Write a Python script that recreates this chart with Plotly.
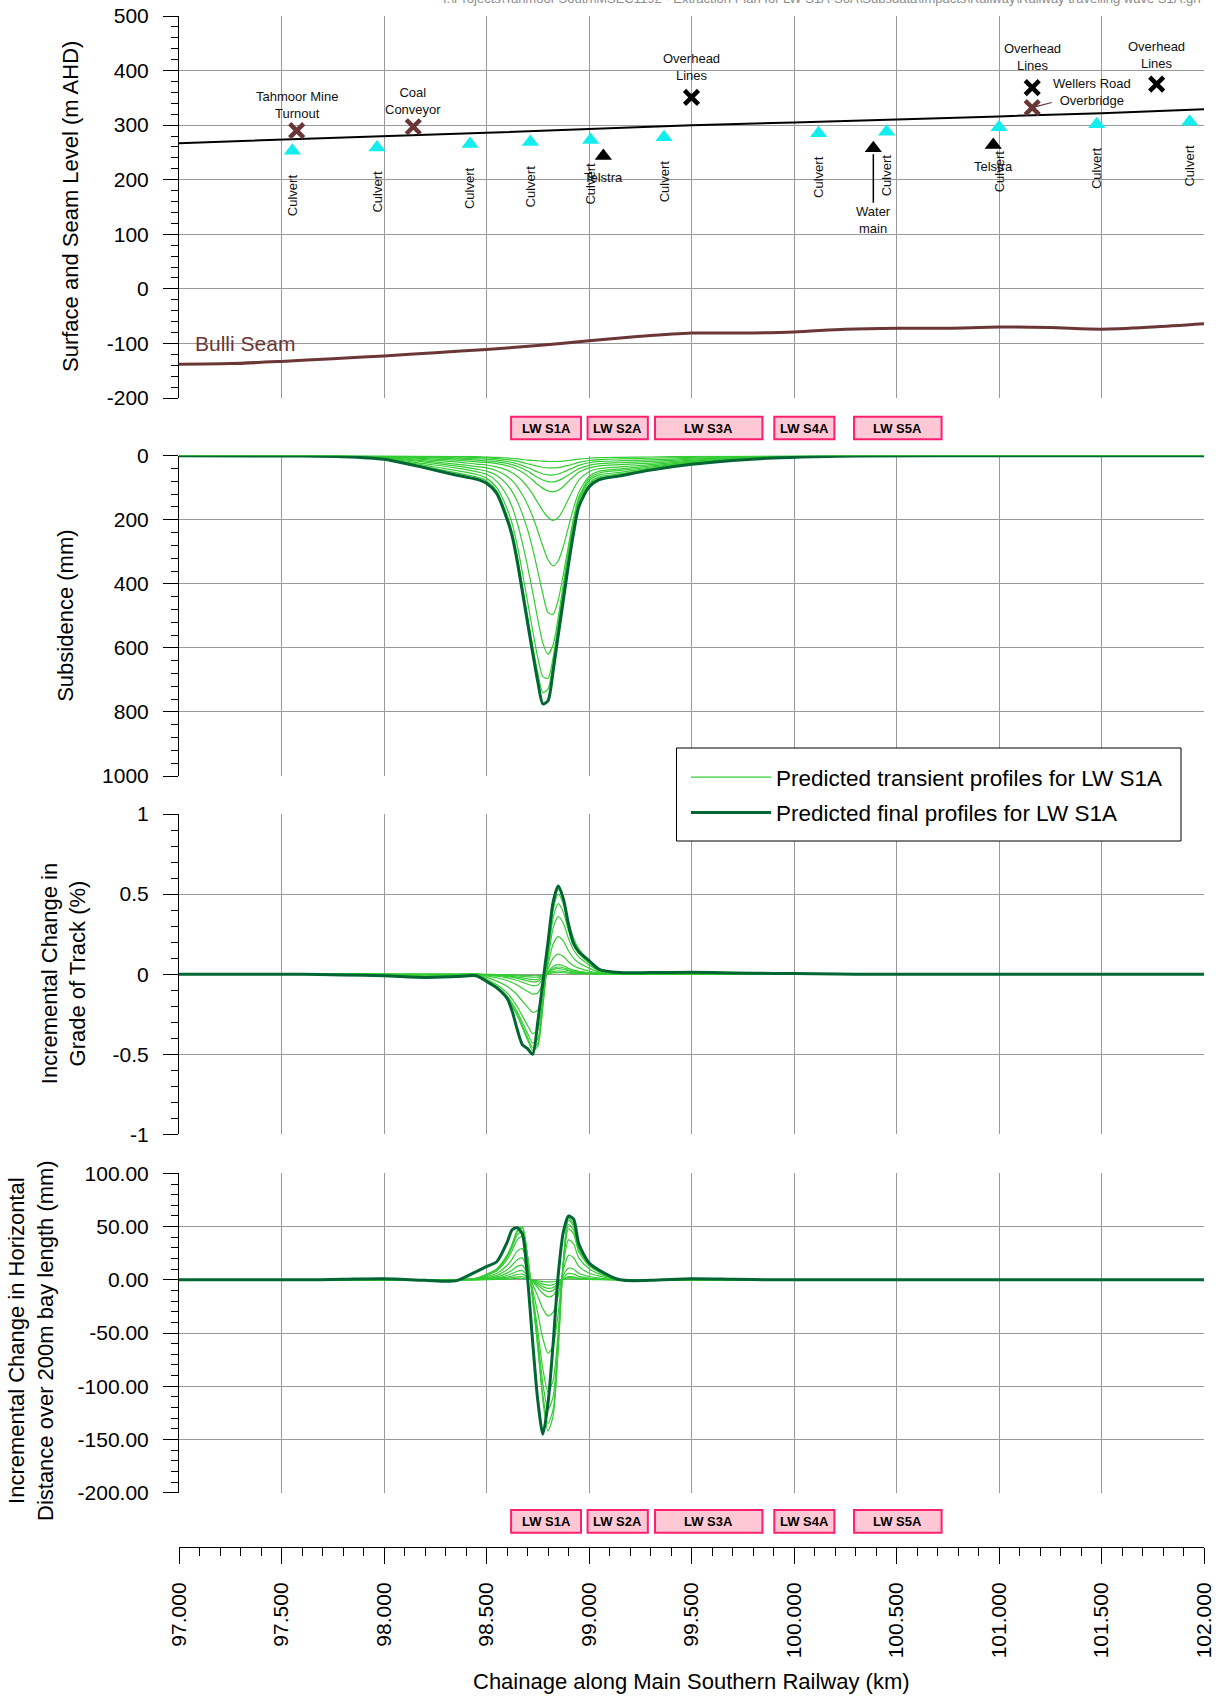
import plotly.graph_objects as go

# ------------------------------------------------------------------ ticks
km_ticks = [97.0, 97.5, 98.0, 98.5, 99.0, 99.5, 100.0, 100.5, 101.0, 101.5, 102.0]
km_tick_text = ["97.000", "97.500", "98.000", "98.500", "99.000", "99.500",
                "100.000", "100.500", "101.000", "101.500", "102.000"]
level_ticks = [-200, -100, 0, 100, 200, 300, 400, 500]
level_tick_text = ["-200", "-100", "0", "100", "200", "300", "400", "500"]
subs_ticks = [0, 200, 400, 600, 800, 1000]
subs_tick_text = ["0", "200", "400", "600", "800", "1000"]
grade_ticks = [-1, -0.5, 0, 0.5, 1]
grade_tick_text = ["-1", "-0.5", "0", "0.5", "1"]
horiz_ticks = [-200, -150, -100, -50, 0, 50, 100]
horiz_tick_text = ["-200.00", "-150.00", "-100.00", "-50.00", "0.00", "50.00", "100.00"]

# ------------------------------------------------------------------ top panel data
surface_km = [97.0, 97.5, 98.0, 98.5, 99.0, 99.5, 100.0, 100.5, 101.0, 101.5, 102.0]
surface_lvl = [267, 273, 280, 286, 293, 300, 305, 310, 316, 322, 329]

seam_km = [97.0, 97.25, 97.5, 97.75, 98.0, 98.25, 98.5, 98.75, 99.0, 99.25, 99.5,
           99.75, 100.0, 100.25, 100.5, 100.75, 101.0, 101.25, 101.5, 101.75, 102.0]
seam_lvl = [-138, -137, -133, -128, -123, -117, -111, -104, -95, -87, -81,
            -81, -79, -74, -72, -72, -70, -71, -74, -70, -64]

culvert_km = [97.553, 97.966, 98.42, 98.714, 99.008, 99.366, 100.12, 100.452, 101.0, 101.477, 101.93]
culvert_lvl = [253, 259, 265.5, 269, 273, 277.7, 285, 288, 296, 301.5, 306]

service_km = [99.07, 100.387, 100.972]
service_lvl = [243.5, 257.5, 263.6]
service_names = ["Telstra", "Water<br>main", "Telstra"]

feature_km = [97.574, 98.143, 101.162]
feature_lvl = [290, 297, 332]
feature_names = ["Tahmoor Mine<br>Turnout", "Coal<br>Conveyor", "Wellers Road<br>Overbridge"]

overhead_km = [99.50, 101.162, 101.769]
overhead_lvl = [351, 368.6, 375]
overhead_names = ["Overhead<br>Lines", "Overhead<br>Lines", "Overhead<br>Lines"]

lw_names = ["LW S1A", "LW S2A", "LW S3A", "LW S4A", "LW S5A"]
lw_start = [98.620, 98.993, 99.322, 99.904, 100.293]
lw_end = [98.961, 99.287, 99.846, 100.197, 100.720]

# ------------------------------------------------------------------ profiles
profile_km = [97.0, 97.6, 97.8, 98.0, 98.2, 98.35, 98.45, 98.5, 98.55, 98.6, 98.625, 98.65,
              98.675, 98.7, 98.725, 98.75, 98.775, 98.8, 98.825, 98.85, 98.875, 98.9, 98.925,
              98.95, 99.0, 99.05, 99.15, 99.3, 99.5, 99.7, 99.9, 100.1, 100.3, 101.0, 102.0]

subs_final = [0, 1, 3, 11, 38, 60, 73, 86, 118, 198, 250, 330, 425, 520, 615, 705, 775, 765,
              672, 560, 450, 340, 240, 160, 98, 75, 63, 45, 27, 15, 7, 3, 1, 0, 0]
subs_transient = [
    [0, 0, 0, 0, 1, 2, 3, 4, 5, 7, 8, 10, 12, 14, 15, 16, 17, 18, 18, 18, 17, 15, 13, 11, 8, 6, 5, 4, 2, 1, 0, 0, 0, 0, 0],
    [0, 0, 0, 1, 2, 4, 6, 7, 9, 12, 14, 17, 21, 25, 29, 33, 36, 38, 38, 37, 34, 30, 26, 21, 15, 12, 10, 8, 5, 3, 1, 0, 0, 0, 0],
    [0, 0, 0, 1, 4, 7, 10, 11, 14, 18, 21, 25, 31, 37, 44, 51, 57, 60, 60, 57, 51, 44, 37, 30, 22, 18, 16, 13, 8, 4, 2, 1, 0, 0, 0],
    [0, 0, 1, 2, 6, 10, 14, 16, 19, 24, 28, 33, 40, 48, 58, 68, 76, 81, 82, 78, 70, 60, 50, 41, 30, 25, 22, 18, 11, 6, 3, 1, 0, 0, 0],
    [0, 0, 1, 3, 9, 14, 19, 21, 25, 31, 36, 43, 52, 63, 76, 90, 102, 110, 113, 108, 96, 80, 65, 52, 38, 32, 28, 23, 14, 8, 4, 1, 0, 0, 0],
    [0, 0, 1, 4, 12, 19, 26, 29, 35, 45, 53, 64, 79, 97, 120, 146, 172, 192, 202, 193, 168, 135, 103, 76, 50, 40, 35, 28, 17, 9, 4, 2, 1, 0, 0],
    [0, 0, 2, 5, 16, 26, 34, 38, 47, 64, 78, 97, 122, 152, 190, 235, 283, 325, 344, 328, 282, 222, 163, 115, 65, 48, 41, 32, 19, 11, 5, 2, 1, 0, 0],
    [0, 0, 2, 7, 20, 32, 42, 48, 62, 90, 112, 142, 182, 230, 290, 360, 432, 490, 495, 450, 370, 280, 195, 130, 72, 54, 46, 36, 21, 12, 6, 2, 1, 0, 0],
    [0, 0, 2, 8, 25, 38, 50, 58, 80, 125, 160, 210, 272, 345, 425, 510, 585, 620, 590, 505, 400, 295, 202, 135, 78, 60, 52, 39, 23, 13, 6, 3, 1, 0, 0],
    [0, 1, 2, 9, 30, 46, 58, 70, 100, 165, 212, 280, 365, 455, 545, 630, 690, 695, 630, 525, 415, 305, 210, 140, 85, 66, 57, 41, 25, 14, 6, 3, 1, 0, 0],
    [0, 1, 3, 10, 34, 53, 66, 78, 110, 185, 237, 312, 405, 500, 592, 678, 740, 728, 645, 535, 428, 322, 225, 150, 92, 70, 60, 44, 26, 15, 7, 3, 1, 0, 0],
]

grade_final = [0, 0, -0.005, -0.01, -0.02, -0.015, -0.01, -0.045, -0.085, -0.15, -0.23, -0.345,
               -0.44, -0.465, -0.5, -0.3, -0.05, 0.2, 0.45, 0.55, 0.47, 0.31, 0.19, 0.14, 0.085,
               0.03, 0.01, 0.01, 0.012, 0.008, 0.005, 0.003, 0, 0, 0]
grade_transient = [
    [0, 0, 0, 0, 0, 0, 0, -0.001, -0.002, -0.003, -0.004, -0.005, -0.007, -0.008, -0.0095, -0.009, -0.004, 0.002, 0.008, 0.01, 0.009, 0.006, 0.004, 0.003, 0.002, 0.001, 0, 0, 0, 0, 0, 0, 0, 0, 0],
    [0, 0, 0, 0, 0, 0, 0, -0.002, -0.003, -0.006, -0.008, -0.01, -0.013, -0.016, -0.019, -0.018, -0.009, 0.005, 0.016, 0.02, 0.018, 0.012, 0.008, 0.006, 0.003, 0.001, 0, 0, 0, 0, 0, 0, 0, 0, 0],
    [0, 0, 0, 0, -0.001, -0.001, 0, -0.003, -0.006, -0.011, -0.014, -0.018, -0.023, -0.029, -0.033, -0.032, -0.014, 0.009, 0.028, 0.035, 0.031, 0.022, 0.015, 0.011, 0.006, 0.002, 0.001, 0.001, 0.001, 0, 0, 0, 0, 0, 0],
    [0, 0, 0, -0.001, -0.002, -0.002, 0, -0.004, -0.009, -0.015, -0.02, -0.026, -0.034, -0.041, -0.048, -0.045, -0.02, 0.011, 0.036, 0.045, 0.04, 0.028, 0.019, 0.014, 0.007, 0.003, 0.001, 0.001, 0.001, 0, 0, 0, 0, 0, 0],
    [0, 0, 0, -0.002, -0.003, -0.002, -0.001, -0.006, -0.013, -0.023, -0.03, -0.039, -0.05, -0.062, -0.071, -0.068, -0.031, 0.014, 0.048, 0.06, 0.053, 0.037, 0.025, 0.018, 0.01, 0.004, 0.001, 0.001, 0.001, 0.001, 0, 0, 0, 0, 0],
    [0, 0, 0, -0.003, -0.005, -0.004, -0.001, -0.01, -0.022, -0.039, -0.052, -0.068, -0.087, -0.107, -0.124, -0.117, -0.053, 0.031, 0.1, 0.125, 0.11, 0.078, 0.053, 0.038, 0.02, 0.008, 0.003, 0.003, 0.003, 0.001, 0, 0, 0, 0, 0],
    [0, 0, -0.001, -0.005, -0.01, -0.008, -0.003, -0.02, -0.043, -0.075, -0.1, -0.13, -0.168, -0.205, -0.238, -0.225, -0.1, 0.057, 0.188, 0.235, 0.207, 0.146, 0.099, 0.071, 0.038, 0.014, 0.005, 0.005, 0.005, 0.002, 0, 0, 0, 0, 0],
    [0, 0, -0.002, -0.007, -0.015, -0.012, -0.004, -0.031, -0.066, -0.117, -0.156, -0.203, -0.261, -0.32, -0.37, -0.351, -0.157, 0.087, 0.288, 0.36, 0.317, 0.223, 0.151, 0.108, 0.058, 0.022, 0.007, 0.007, 0.007, 0.004, 0, 0, 0, 0, 0],
    [0, 0, -0.002, -0.008, -0.017, -0.013, -0.005, -0.036, -0.077, -0.135, -0.18, -0.234, -0.302, -0.369, -0.428, -0.405, -0.18, 0.109, 0.352, 0.44, 0.387, 0.273, 0.185, 0.132, 0.07, 0.026, 0.009, 0.009, 0.009, 0.004, 0, 0, 0, 0, 0],
    [0, 0, -0.002, -0.009, -0.018, -0.014, -0.005, -0.038, -0.082, -0.144, -0.192, -0.25, -0.322, -0.394, -0.456, -0.432, -0.19, 0.128, 0.4, 0.5, 0.44, 0.31, 0.21, 0.15, 0.08, 0.03, 0.01, 0.01, 0.01, 0.005, 0, 0, 0, 0, 0],
    [0, 0, -0.003, -0.009, -0.019, -0.015, -0.006, -0.04, -0.085, -0.15, -0.2, -0.26, -0.335, -0.41, -0.475, -0.45, -0.2, 0.135, 0.424, 0.53, 0.466, 0.329, 0.223, 0.159, 0.085, 0.032, 0.011, 0.011, 0.011, 0.005, 0, 0, 0, 0, 0],
]

horiz_final = [0, 0, 0.5, 1, -0.5, -1, 7.8, 12.5, 17, 35, 47, 49, 43, 2, -58, -113, -145, -116,
               -60, 5, 45, 60, 57, 34, 16, 9, 0, -0.5, 1, 0.5, 0, 0, 0, 0, 0]
horiz_transient = [
    [0, 0, 0, 0, 0, 0, 0.05, 0.15, 0.3, 0.7, 1.0, 1.35, 1.45, 0.7, -0.2, -0.9, -1.6, -2, -1.8, -0.9, 0.4, 1, 0.9, 0.55, 0.3, 0.15, 0, 0, 0, 0, 0, 0, 0, 0, 0],
    [0, 0, 0, 0, 0, 0, 0.1, 0.3, 0.6, 1.4, 2.0, 2.7, 2.9, 1.4, -0.6, -2.3, -4, -5, -4.5, -2.3, 0.6, 2, 1.8, 1.1, 0.6, 0.3, 0, 0, 0, 0, 0, 0, 0, 0, 0],
    [0, 0, 0, 0, 0, 0, 0.2, 0.6, 1.1, 2.5, 3.6, 5.0, 5.4, 2.5, -0.9, -3.6, -6.4, -8, -7.2, -3.7, 0.8, 3, 2.7, 1.7, 0.8, 0.5, 0, 0, 0, 0, 0, 0, 0, 0, 0],
    [0, 0, 0, 0, 0, 0, 0.3, 0.9, 1.8, 4.1, 5.9, 8.1, 8.7, 4.1, -1.2, -5, -8.8, -11, -9.9, -4.9, 2.3, 6, 5.4, 3.3, 1.7, 0.9, 0, 0, 0, 0, 0, 0, 0, 0, 0],
    [0, 0, 0, 0, 0, 0, 0.4, 1.4, 2.8, 6.3, 9.1, 12.6, 13.6, 6.3, -1.7, -7.2, -12.8, -16, -14.4, -6.9, 4.7, 11, 9.9, 6.1, 3.1, 1.7, 0, 0, 0, 0, 0, 0, 0, 0, 0],
    [0, 0, 0, 0, 0, 0, 0.6, 2.1, 4.2, 9.5, 13.7, 18.9, 20.4, 9.5, -4.1, -15.3, -27.2, -34, -30.6, -14.7, 9.7, 23, 20.7, 12.7, 6.4, 3.5, 0, 0, 0, 0, 0, 0, 0, 0, 0],
    [0, 0, 0, 0, 0, 0, 0.9, 3, 6, 13.5, 19.5, 27, 29.1, 13.5, -8.9, -31, -55.2, -69, -62.1, -30.8, 14.2, 37.5, 33.8, 20.6, 10.5, 5.6, 0, 0, 0, 0, 0, 0, 0, 0, 0],
    [0, 0, 0, 0, 0, 0, 1.3, 4.2, 8.4, 18.9, 27.3, 37.8, 40.7, 18.9, -13.7, -47.3, -84, -105, -94.5, -47.7, 16.2, 48, 43.2, 26.4, 13.4, 7.2, 0, 0, 0, 0, 0, 0, 0, 0, 0],
    [0, 0, 0, 0, 0, 0, 1.4, 4.7, 9.4, 21.2, 30.6, 42.3, 45.6, 21.2, -16, -54.9, -97.6, -122, -109.8, -55.8, 16.6, 52, 46.8, 28.6, 14.6, 7.8, 0, 0, 0, 0, 0, 0, 0, 0, 0],
    [0, 0, 0, 0, 0, 0, 1.5, 5, 10, 22.5, 32.5, 45, 48.5, 22.5, -17.8, -60.8, -108, -135, -121.5, -61.9, 17.4, 56, 50.4, 30.8, 15.7, 8.4, 0, 0, 0, 0, 0, 0, 0, 0, 0],
    [0, 0, 0, 0, 0, 0, 1.5, 5.2, 10.3, 23.2, 33.5, 46.4, 50, 23.2, -18.7, -63.9, -113.6, -142, -127.8, -65.2, 17.8, 58, 52.2, 31.9, 16.2, 8.7, 0, 0, 0, 0, 0, 0, 0, 0, 0],
]

# ------------------------------------------------------------------ styles
FONT = "Liberation Sans, Arial, sans-serif"
GRID = "#9a9a9a"
LIGHT = "#33CC33"
DARK = "#006633"
BROWN = "#6B3636"
CYAN = "#14EDED"
PINK_FILL = "#FFC8D4"
PINK_LINE = "#FF1F70"

W, H = 1221, 1697
ML, MR, MT, MB = 179, 17, 16, 150
PW = W - ML - MR
PH = H - MT - MB


def py(px):
    """pixel row -> paper fraction"""
    return (H - MB - px) / PH


def pxx(px):
    """pixel column -> paper fraction"""
    return (px - ML) / PW


P1 = [py(398), py(MT)]
P2 = [py(776), py(455.7)]
P3 = [py(1134.4), py(814)]
P4 = [py(1492.7), py(1173.4)]
LW_TOP_BOX = [py(439.3), py(416.7)]
LW_BOT_BOX = [py(1532.7), py(1510)]

fig = go.Figure()

# ---- panel 1
common = dict(showlegend=False, hoverinfo="skip")
fig.add_trace(go.Scatter(x=surface_km, y=surface_lvl, mode="lines",
                         line=dict(color="black", width=2), xaxis="x", yaxis="y", **common))
fig.add_trace(go.Scatter(x=seam_km, y=seam_lvl, mode="lines",
                         line=dict(color=BROWN, width=3, shape="spline", smoothing=0.8),
                         xaxis="x", yaxis="y", **common))
fig.add_trace(go.Scatter(x=culvert_km, y=culvert_lvl, mode="markers",
                         marker=dict(symbol="triangle-up", size=15, color=CYAN),
                         xaxis="x", yaxis="y", **common))
fig.add_trace(go.Scatter(x=service_km, y=service_lvl, mode="markers",
                         marker=dict(symbol="triangle-up", size=15, color="black"),
                         xaxis="x", yaxis="y", **common))
fig.add_trace(go.Scatter(x=feature_km, y=feature_lvl, mode="markers",
                         marker=dict(symbol="x-thin", size=14, line=dict(width=4.5, color=BROWN)),
                         xaxis="x", yaxis="y", **common))
fig.add_trace(go.Scatter(x=overhead_km, y=overhead_lvl, mode="markers",
                         marker=dict(symbol="x-thin", size=14, line=dict(width=4.5, color="black")),
                         xaxis="x", yaxis="y", **common))

# ---- panels 2-4
panels = [("x2", "y2", subs_transient, subs_final),
          ("x3", "y3", grade_transient, grade_final),
          ("x4", "y4", horiz_transient, horiz_final)]
for pi, (xa, ya, trans, final) in enumerate(panels):
    for ti, series in enumerate(trans):
        fig.add_trace(go.Scatter(
            x=profile_km, y=series, mode="lines",
            line=dict(color=LIGHT, width=1.2, shape="spline", smoothing=0.7),
            xaxis=xa, yaxis=ya, hoverinfo="skip",
            name="Predicted transient profiles for LW S1A", legendgroup="a",
            showlegend=(pi == 0 and ti == 0)))
    fig.add_trace(go.Scatter(
        x=profile_km, y=final, mode="lines",
        line=dict(color=DARK, width=3, shape="spline", smoothing=0.7),
        xaxis=xa, yaxis=ya, hoverinfo="skip",
        name="Predicted final profiles for LW S1A", legendgroup="b",
        showlegend=(pi == 0)))

# dummy trace for bottom chainage axis
fig.add_trace(go.Scatter(x=[97, 102], y=[0, 0], mode="none", xaxis="x5", yaxis="y5", **common))


def x_panel(anchor):
    return dict(domain=[0, 1], range=[97, 102], anchor=anchor, tickmode="array",
                tickvals=km_ticks, showticklabels=False, ticks="", showgrid=True,
                gridcolor=GRID, gridwidth=1, zeroline=False, showline=False,
                automargin=False)


def y_panel(anchor, domain, rng, tv, tt, minor_start, minor_step):
    return dict(domain=domain, range=rng, anchor=anchor, tickmode="array", tickvals=tv,
                ticktext=tt, showline=True, linecolor="black", linewidth=1,
                ticks="outside", ticklen=15, tickwidth=1, tickcolor="black",
                ticklabelstandoff=10, automargin=False,
                minor=dict(ticks="outside", ticklen=7, tickwidth=1, tickcolor="black",
                           tickmode="linear", tick0=minor_start, dtick=minor_step,
                           showgrid=False),
                showgrid=True, gridcolor=GRID, gridwidth=1, zeroline=False,
                tickfont=dict(size=21, color="black", family=FONT))


layout = dict(
    width=W, height=H,
    margin=dict(l=ML, r=MR, t=MT, b=MB, autoexpand=False),
    paper_bgcolor="white", plot_bgcolor="white",
    font=dict(family=FONT, color="black", size=14),
    xaxis=x_panel("y"), xaxis2=x_panel("y2"), xaxis3=x_panel("y3"), xaxis4=x_panel("y4"),
    yaxis=y_panel("x", P1, [-200, 500], level_ticks, level_tick_text, -200, 20),
    yaxis2=y_panel("x2", P2, [1000, 0], subs_ticks, subs_tick_text, 0, 40),
    yaxis3=y_panel("x3", P3, [-1, 1], grade_ticks, grade_tick_text, -1, 0.1),
    yaxis4=y_panel("x4", P4, [-200, 100], horiz_ticks, horiz_tick_text, -200, 10),
    xaxis5=dict(domain=[0, 1], range=[97, 102], anchor="y5", tickmode="array",
                tickvals=km_ticks, ticktext=km_tick_text, tickangle=-90,
                showline=True, linecolor="black", linewidth=1, automargin=False,
                ticks="outside", ticklen=16, tickcolor="black", ticklabelstandoff=10,
                minor=dict(ticks="outside", ticklen=8, tickcolor="black",
                           tickmode="linear", tick0=97, dtick=0.1, showgrid=False),
                showgrid=False, zeroline=False,
                tickfont=dict(size=21, color="black", family=FONT)),
    yaxis5=dict(domain=[0, 0.001], range=[0, 1], anchor="x5", visible=False),
    legend=dict(x=pxx(686), y=py(756), xanchor="left", yanchor="top",
                bgcolor="rgba(0,0,0,0)", borderwidth=0, itemwidth=80,
                font=dict(size=22.5, family=FONT, color="black"),
                traceorder="grouped", tracegroupgap=3),
    showlegend=True,
)
fig.update_layout(**layout)

shapes = []
annotations = []

# legend frame (white box with black border)
shapes.append(dict(type="rect", xref="paper", yref="paper", layer="above",
                   x0=pxx(676.5), x1=pxx(1181), y0=py(841), y1=py(748),
                   fillcolor="white", line=dict(color="black", width=1)))

# LW panel boxes (top and bottom)
for name, s, e in zip(lw_names, lw_start, lw_end):
    for xr, (y0, y1) in (("x2", LW_TOP_BOX), ("x4", LW_BOT_BOX)):
        shapes.append(dict(type="rect", xref=xr, yref="paper", x0=s, x1=e, y0=y0, y1=y1,
                           fillcolor=PINK_FILL, line=dict(color=PINK_LINE, width=2)))
        annotations.append(dict(xref=xr, yref="paper", x=(s + e) / 2, y=(y0 + y1) / 2,
                                text="<b>%s</b>" % name, showarrow=False,
                                xanchor="center", yanchor="middle",
                                font=dict(size=13, color="black", family=FONT)))

# culvert labels
for k, v in zip(culvert_km, culvert_lvl):
    annotations.append(dict(xref="x", yref="y", x=k, y=v, yshift=-44, text="Culvert",
                            textangle=-90, showarrow=False, xanchor="center", yanchor="middle",
                            font=dict(size=13, color="#111", family=FONT)))

# Telstra / water main
annotations.append(dict(xref="x", yref="y", x=service_km[0], y=service_lvl[0], yshift=-22,
                        text=service_names[0], showarrow=False,
                        font=dict(size=13, color="#111", family=FONT)))
annotations.append(dict(xref="x", yref="y", x=service_km[2], y=service_lvl[2], yshift=-21,
                        text=service_names[2], showarrow=False,
                        font=dict(size=13, color="#111", family=FONT)))
annotations.append(dict(xref="x", yref="y", x=service_km[1], y=service_lvl[1],
                        text=service_names[1], showarrow=True, arrowhead=0, arrowwidth=1.5,
                        arrowcolor="black", ax=0, ay=72, standoff=6,
                        font=dict(size=13, color="#111", family=FONT)))

# features (brown crosses)
for k, v, t in zip(feature_km[:2], feature_lvl[:2], feature_names[:2]):
    annotations.append(dict(xref="x", yref="y", x=k, y=v, yshift=8, text=t, showarrow=False,
                            yanchor="bottom", font=dict(size=13, color="#111", family=FONT)))
annotations.append(dict(xref="x", yref="y", x=feature_km[2], y=feature_lvl[2],
                        text=feature_names[2], showarrow=True, arrowhead=0, arrowwidth=1.2,
                        arrowcolor=BROWN, ax=60, ay=-16, standoff=4,
                        font=dict(size=13, color="#111", family=FONT)))

# overhead lines
for k, v, t, ys in zip(overhead_km, overhead_lvl, overhead_names, [12, 13, 11]):
    annotations.append(dict(xref="x", yref="y", x=k, y=v, yshift=ys, text=t, showarrow=False,
                            yanchor="bottom", font=dict(size=13, color="#111", family=FONT)))

annotations.append(dict(xref="x", yref="y", x=97.067, y=-100, text="Bulli Seam",
                        showarrow=False, xanchor="left", yanchor="middle",
                        font=dict(size=21, color=BROWN, family=FONT)))


# axis titles
def ytitle(xpx, ycen, text):
    return dict(xref="paper", yref="paper", x=pxx(xpx), y=ycen, text=text,
                textangle=-90, showarrow=False, xanchor="center", yanchor="middle",
                font=dict(size=22, color="black", family=FONT))


annotations.append(ytitle(70, (P1[0] + P1[1]) / 2, "Surface and Seam Level (m AHD)"))
annotations.append(ytitle(66, (P2[0] + P2[1]) / 2, "Subsidence (mm)"))
annotations.append(ytitle(64, (P3[0] + P3[1]) / 2, "Incremental Change in<br>Grade of Track (%)"))
annotations.append(ytitle(31, py(1341),
                          "Incremental Change in Horizontal<br>Distance over 200m bay length (mm)"))
annotations.append(dict(xref="paper", yref="paper", x=0.5, y=py(1681),
                        text="Chainage along Main Southern Railway (km)", showarrow=False,
                        xanchor="center", yanchor="middle",
                        font=dict(size=22, color="black", family=FONT)))

# file path header (clipped at top edge, as in the source drawing)
annotations.append(dict(xref="paper", yref="paper", x=1.0, y=py(0), yshift=1,
                        text="I:\\Projects\\Tahmoor South\\MSEC1192 - Extraction Plan for LW S1A-S6A"
                             "\\Subsdata\\Impacts\\Railway\\Railway travelling wave S1A.grf",
                        showarrow=False, xanchor="right", yanchor="middle",
                        font=dict(size=13, color="#8c8c8c", family=FONT)))

fig.update_layout(shapes=shapes, annotations=annotations)

fig.write_html("out.html", config={"displayModeBar": False},
               post_script="document.body.style.margin='0';")
